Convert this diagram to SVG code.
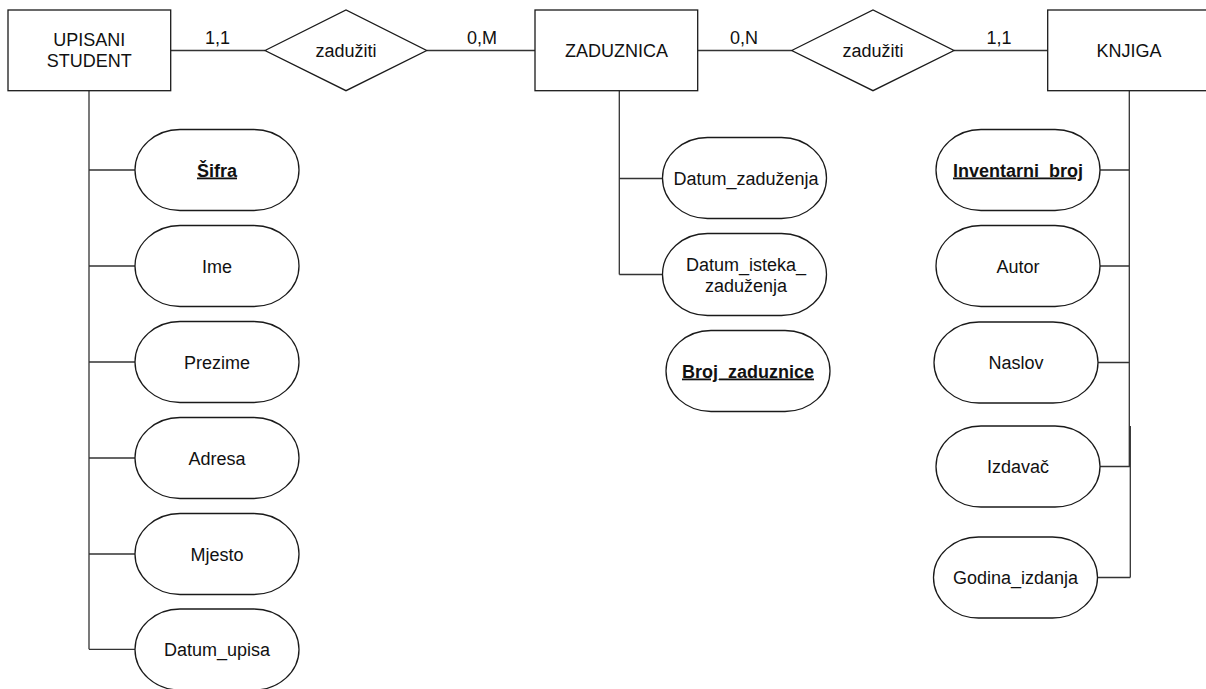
<svg xmlns="http://www.w3.org/2000/svg" width="1206" height="689" viewBox="0 0 1206 689">
  <defs>
    <style>
      .ent { fill: #ffffff; stroke: #1a1a1a; stroke-width: 1.3; }
      .rel { fill: #ffffff; stroke: #1a1a1a; stroke-width: 1.3; }
      .att { fill: #ffffff; stroke: #1a1a1a; stroke-width: 1.3; }
      .conn { fill: none; stroke: #333333; stroke-width: 1.3; }
      text { font-family: "Liberation Sans", Arial, sans-serif; font-size: 18px; fill: #111111; text-anchor: middle; }
      .key { font-weight: bold; text-decoration: underline; }
    </style>
  </defs>
  <rect width="1206" height="689" fill="#ffffff"/>

  <g id="connectors">
    <line class="conn" x1="170.7" y1="50.5" x2="265" y2="50.5"/>
    <line class="conn" x1="426.7" y1="50.5" x2="535" y2="50.5"/>
    <line class="conn" x1="697.7" y1="50.5" x2="791.7" y2="50.5"/>
    <line class="conn" x1="954" y1="50.5" x2="1047.7" y2="50.5"/>
    <!-- UPISANI STUDENT attributes -->
    <path class="conn" d="M89 90.7 V649.3 M89 170 H135 M89 266 H135 M89 362 H135 M89 458 H135 M89 554 H135 M89 649.3 H135"/>
    <!-- ZADUZNICA attributes -->
    <path class="conn" d="M619.3 90.7 V274.5 M619.3 178.5 H662.5 M619.3 274.5 H662.5"/>
    <!-- KNJIGA attributes -->
    <path class="conn" d="M1129.3 90.7 V466.5 M1130.3 426 V577.5 M1100 170 H1129.3 M1100 266 H1129.3 M1098 362.5 H1129.3 M1100 466.5 H1130.3 M1097.5 577.5 H1130.3"/>
    <text x="217.5" y="44">1,1</text>
    <text x="482" y="44">0,M</text>
    <text x="744" y="44">0,N</text>
    <text x="999" y="44">1,1</text>
  </g>

  <g id="upisani-student">
    <rect class="ent" x="8" y="10" width="162.7" height="80.7"/>
    <text x="89.3" y="46">UPISANI</text>
    <text x="89.3" y="67.3">STUDENT</text>
  </g>
  <g id="rel-zaduziti-1">
    <polygon class="rel" points="265,50.5 346,10 426.7,50.5 346,90.7"/>
    <text x="346" y="57">zadužiti</text>
  </g>
  <g id="zaduznica">
    <rect class="ent" x="535" y="10" width="162.7" height="80.7"/>
    <text x="616.5" y="56.7">ZADUZNICA</text>
  </g>
  <g id="rel-zaduziti-2">
    <polygon class="rel" points="791.7,50.5 873,10 954,50.5 873,90.7"/>
    <text x="873" y="57">zadužiti</text>
  </g>
  <g id="knjiga">
    <rect class="ent" x="1047.7" y="10" width="162.7" height="80.7"/>
    <text x="1129" y="56.7">KNJIGA</text>
  </g>

  <g id="attr-sifra">
    <rect class="att" x="135" y="129.5" width="164" height="81" rx="45" ry="40.5"/>
    <text class="key" x="217" y="176.5">Šifra</text>
  </g>
  <g id="attr-ime">
    <rect class="att" x="135" y="225.5" width="164" height="81" rx="45" ry="40.5"/>
    <text x="217" y="272.5">Ime</text>
  </g>
  <g id="attr-prezime">
    <rect class="att" x="135" y="321.5" width="164" height="81" rx="45" ry="40.5"/>
    <text x="217" y="368.5">Prezime</text>
  </g>
  <g id="attr-adresa">
    <rect class="att" x="135" y="417.5" width="164" height="81" rx="45" ry="40.5"/>
    <text x="217" y="464.5">Adresa</text>
  </g>
  <g id="attr-mjesto">
    <rect class="att" x="135" y="513.5" width="164" height="81" rx="45" ry="40.5"/>
    <text x="217" y="560.5">Mjesto</text>
  </g>
  <g id="attr-datum-upisa">
    <rect class="att" x="135" y="609" width="164" height="81" rx="45" ry="40.5"/>
    <text x="217" y="656">Datum_upisa</text>
  </g>

  <g id="attr-datum-zaduzenja">
    <rect class="att" x="662.5" y="137.5" width="164" height="81" rx="45" ry="40.5"/>
    <text x="746" y="184.5">Datum_zaduženja</text>
  </g>
  <g id="attr-datum-isteka">
    <rect class="att" x="662.5" y="233.5" width="164" height="82" rx="45" ry="41"/>
    <text x="746" y="270.5">Datum_isteka_</text>
    <text x="746" y="292">zaduženja</text>
  </g>
  <g id="attr-broj-zaduznice">
    <rect class="att" x="666" y="330.5" width="164" height="81" rx="45" ry="40.5"/>
    <text class="key" x="748" y="377.5">Broj_zaduznice</text>
  </g>

  <g id="attr-inventarni-broj">
    <rect class="att" x="936" y="129.5" width="164" height="81" rx="45" ry="40.5"/>
    <text class="key" x="1018" y="176.5">Inventarni_broj</text>
  </g>
  <g id="attr-autor">
    <rect class="att" x="936" y="225.5" width="164" height="81" rx="45" ry="40.5"/>
    <text x="1018" y="272.5">Autor</text>
  </g>
  <g id="attr-naslov">
    <rect class="att" x="934" y="322" width="164" height="81" rx="45" ry="40.5"/>
    <text x="1016" y="369">Naslov</text>
  </g>
  <g id="attr-izdavac">
    <rect class="att" x="936" y="426" width="164" height="81" rx="45" ry="40.5"/>
    <text x="1018" y="473">Izdavač</text>
  </g>
  <g id="attr-godina-izdanja">
    <rect class="att" x="933.5" y="537" width="164" height="81" rx="45" ry="40.5"/>
    <text x="1015.5" y="584">Godina_izdanja</text>
  </g>
</svg>
